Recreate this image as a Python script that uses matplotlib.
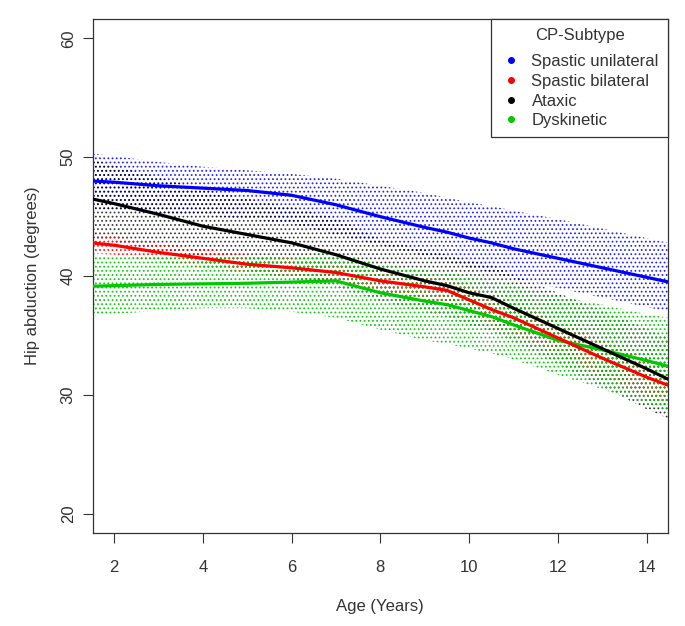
import matplotlib
matplotlib.use("Agg")
import matplotlib.pyplot as plt
from matplotlib.lines import Line2D

# ---------------- data ----------------
ages = [1.5, 2, 3, 4, 5, 6, 7, 8, 9, 9.5, 10, 10.5, 11, 12, 13, 14, 14.5]

subtypes = ["Spastic unilateral", "Spastic bilateral", "Ataxic", "Dyskinetic"]

uni_mean = [48.0, 47.9, 47.6, 47.4, 47.2, 46.8, 46.0, 45.0, 44.1, 43.7, 43.2, 42.8, 42.3, 41.5, 40.7, 39.9, 39.5]
uni_hi   = [50.3, 50.1, 49.6, 49.2, 48.9, 48.6, 48.2, 47.6, 47.0, 46.6, 46.2, 45.9, 45.5, 44.8, 44.0, 43.2, 42.8]
uni_lo   = [45.7, 45.6, 45.3, 45.1, 44.8, 44.4, 43.5, 42.6, 41.7, 41.2, 40.7, 40.3, 39.8, 39.0, 38.2, 37.4, 37.0]

bil_mean = [42.8, 42.6, 42.0, 41.5, 41.0, 40.7, 40.3, 39.6, 39.1, 38.8, 38.0, 37.2, 36.5, 34.8, 33.1, 31.5, 30.8]
bil_hi   = [43.6, 43.4, 42.8, 42.3, 41.8, 41.5, 41.1, 40.5, 40.1, 39.8, 39.1, 38.4, 37.8, 36.2, 34.6, 33.1, 32.5]
bil_lo   = [41.9, 41.8, 41.2, 40.7, 40.2, 39.9, 39.5, 38.7, 38.1, 37.8, 36.9, 36.0, 35.2, 33.4, 31.6, 29.9, 29.1]

ata_mean = [46.5, 46.1, 45.2, 44.2, 43.5, 42.8, 41.8, 40.6, 39.6, 39.2, 38.6, 38.2, 37.3, 35.6, 33.9, 32.2, 31.3]
ata_hi   = [49.8, 49.3, 48.3, 47.3, 46.5, 45.8, 44.9, 43.1, 42.2, 41.8, 41.3, 41.0, 40.1, 38.6, 37.1, 35.6, 34.8]
ata_lo   = [43.2, 42.9, 42.1, 41.1, 40.5, 39.8, 39.1, 37.9, 37.0, 36.6, 35.9, 35.4, 34.5, 32.6, 30.7, 28.8, 28.0]

dys_mean = [39.15, 39.2, 39.3, 39.35, 39.4, 39.5, 39.6, 38.6, 37.9, 37.6, 37.1, 36.6, 35.9, 34.6, 33.8, 32.9, 32.4]
dys_hi   = [41.8, 41.7, 41.6, 41.5, 41.6, 41.7, 41.9, 41.0, 40.5, 40.3, 40.0, 39.7, 39.2, 38.3, 37.6, 36.8, 36.5]
dys_lo   = [36.6, 36.8, 37.1, 37.3, 37.3, 37.0, 36.5, 35.5, 34.6, 34.3, 33.9, 33.5, 33.0, 31.7, 30.5, 29.2, 28.7]

x_ticks = [2, 4, 6, 8, 10, 12, 14]
y_ticks = [20, 30, 40, 50, 60]

colors = ["#0000FF", "#FF0000", "#000000", "#00C800"]

# ---------------- plot ----------------
plt.rcParams["font.family"] = ["Liberation Sans", "DejaVu Sans"]
plt.rcParams["hatch.linewidth"] = 0.8

fig = plt.figure(figsize=(6.85, 6.26), dpi=100)
ax = fig.add_axes([0.1353, 0.1486, 0.8399, 0.8206])

bands = [
    (uni_lo, uni_hi, colors[0], 0.80),
    (ata_lo, ata_hi, colors[2], 0.70),
    (bil_lo, bil_hi, colors[1], 0.85),
    (dys_lo, dys_hi, colors[3], 0.90),
]
for lo, hi, c, a in bands:
    rgba = matplotlib.colors.to_rgba(c, a)
    ax.fill_between(ages, lo, hi, facecolor="none", edgecolor=rgba,
                    linewidth=0, hatch="....", zorder=1)

means = [uni_mean, bil_mean, ata_mean, dys_mean]
order = [0, 3, 1, 2]
for i in order:
    ax.plot(ages, means[i], color=colors[i], lw=2.3, solid_capstyle="butt", zorder=3)

ax.set_xlim(1.52, 14.48)
ax.set_ylim(18.4, 61.6)
ax.set_xticks(x_ticks)
ax.set_yticks(y_ticks)
ax.set_xticklabels([str(v) for v in x_ticks])
ax.set_yticklabels([str(v) for v in y_ticks], rotation=90, va="center")
ax.tick_params(axis="both", direction="out", length=7.2, width=0.8,
               labelsize=12, colors="#333333", labelcolor="#333333")
ax.tick_params(axis="x", pad=12)
ax.tick_params(axis="y", pad=5)
for s in ax.spines.values():
    s.set_linewidth(0.9)
    s.set_color("#333333")

ax.set_xlabel("Age (Years)", fontsize=12, color="#333333", labelpad=17.5)
ax.set_ylabel("Hip abduction (degrees)", fontsize=12, color="#333333", labelpad=15)

handles = [Line2D([], [], marker="o", linestyle="none", markersize=4,
                  color=colors[i]) for i in range(4)]
leg = ax.legend(handles, subtypes, title="CP-Subtype", loc="upper right",
                bbox_to_anchor=(1.0, 1.0), borderaxespad=0, fontsize=12,
                title_fontsize=12, frameon=True, fancybox=False,
                framealpha=1, edgecolor="#333333", handlelength=1.2,
                handletextpad=0.65, labelspacing=0.28, borderpad=0.55)
leg._legend_box.sep = 7.8
leg.set_zorder(5)
leg.get_frame().set_linewidth(0.9)
for t in leg.get_texts():
    t.set_color("#333333")
leg.get_title().set_color("#333333")

fig.savefig("out.png", dpi=100)
